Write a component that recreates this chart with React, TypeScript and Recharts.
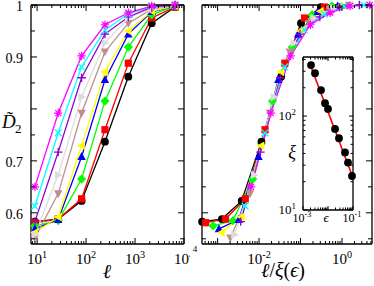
import React from 'react';
import { LineChart, Line, XAxis, YAxis } from 'recharts';

// system sizes l (left panel x)
const sizes = [9, 27, 81, 243, 729, 2187, 6561];

// D2 for each disorder strength, one value per size
const d2Black = [0.583, 0.588, 0.623, 0.737, 0.862, 0.965, 0.996];
const d2Red = [0.581, 0.588, 0.627, 0.76, 0.888, 0.975, 0.996];
const d2Green = [0.575, 0.585, 0.665, 0.815, 0.919, 0.981, 0.998];
const d2Blue = [0.569, 0.587, 0.708, 0.856, 0.944, 0.987, 0.998];
const d2Yellow = [0.562, 0.592, 0.729, 0.871, 0.95, 0.988, 0.998];
const d2Brown = [0.552, 0.637, 0.792, 0.91, 0.965, 0.992, 1.0];
const d2Grey = [0.558, 0.673, 0.823, 0.927, 0.975, 0.994, 1.0];
const d2Violet = [0.583, 0.717, 0.86, 0.944, 0.977, 0.996, 1.0];
const d2Cyan = [0.613, 0.754, 0.881, 0.952, 0.983, 0.998, 1.0];
const d2Magenta = [0.65, 0.792, 0.902, 0.962, 0.985, 0.998, 1.0];

// inset: epsilon vs xi, one point per series, plus the power-law fit
const epsilon = [0.00209, 0.00302, 0.00525, 0.00759, 0.01, 0.0191, 0.0275, 0.0479, 0.0631, 0.0912];
const xi = [349, 286, 189, 137, 119, 73, 58, 41, 32, 23];
const fitEps = [0.0019, 0.094];
const fitXi = [357, 23];
const collapseScale = 61;

// tick labels
const leftXLabelExps = [1, 2, 3, 4];
const leftYLabels = [0.6, 0.7, 0.9, 1];
const rightXLabelExps = [-2, 0];
const insetXLabelExps = [-3, -1];
const insetYLabelExps = [1, 2];

const d2Series = [d2Black, d2Red, d2Green, d2Blue, d2Yellow, d2Brown, d2Grey, d2Violet, d2Cyan, d2Magenta];
const seriesColors = ['#000000', '#ff0000', '#00ff00', '#0000ff', '#ffff00', '#bc8f8f', '#dcdcdc', '#9400d3', '#00ffff', '#ff00ff'];
const seriesShapes = ['circle', 'square', 'diamond', 'up', 'left', 'down', 'right', 'plus', 'cross', 'star'];

const serif = '"Liberation Serif", "DejaVu Serif", serif';

const leftData = d2Series.map((vals) => sizes.map((l, i) => ({ x: l, y: vals[i] })));
const rightData = d2Series.map((vals, s) =>
  sizes.map((l, i) => ({ x: l / (xi[s] * collapseScale), y: vals[i] }))
);
const insetData = epsilon.map((e, i) => ({ x: e, y: xi[i] }));
const fitData = fitEps.map((e, i) => ({ x: e, y: fitXi[i] }));

const leftXDomain = [7.5, 10000];
const rightXDomain = [4.2e-4, 5.3];
const d2Domain = [0.54, 1];
const insetXDomain = [0.001, 0.1];
const insetYDomain = [10, 425];

function logTicks(lo: number, hi: number) {
  const out: number[] = [];
  for (let k = Math.floor(Math.log10(lo)); k <= Math.ceil(Math.log10(hi)); k++) {
    for (let m = 1; m <= 9; m++) {
      const v = +(m * Math.pow(10, k)).toPrecision(6);
      if (v >= lo && v <= hi) out.push(v);
    }
  }
  return out;
}
const d2Ticks = [0.55, 0.6, 0.65, 0.7, 0.75, 0.8, 0.85, 0.9, 0.95, 1];

const isDecade = (v: number) => {
  const e = Math.log10(v);
  return Math.abs(e - Math.round(e)) < 1e-6;
};
const isTenth = (v: number) => Math.abs(v * 10 - Math.round(v * 10)) < 1e-6;

function Pow({ x, y, exp, size, anchor = 'middle' }: any) {
  return (
    <text x={x} y={y} textAnchor={anchor} fontFamily={serif} fontSize={size} fill="#000">
      10
      <tspan dy={-size * 0.42} fontSize={size * 0.68}>
        {exp}
      </tspan>
    </text>
  );
}

// ticks point inward, labels (if any) outside
function bottomLogTick(labelExps: number[], size: number, gap: number, major: number, minor: number, dx = 0) {
  return (p: any) => {
    const v = p.payload.value;
    const dec = isDecade(v);
    const exp = Math.round(Math.log10(v));
    return (
      <g key={`b-${p.index}`}>
        <line x1={p.x} x2={p.x} y1={p.y} y2={p.y - (dec ? major : minor)} stroke="#000" />
        {dec && labelExps.includes(exp) && <Pow x={p.x + dx} y={p.y + gap} exp={exp} size={size} />}
      </g>
    );
  };
}
function topLogTick(major: number, minor: number) {
  return (p: any) => (
    <line key={`t-${p.index}`} x1={p.x} x2={p.x} y1={p.y} y2={p.y + (isDecade(p.payload.value) ? major : minor)} stroke="#000" />
  );
}
function leftLogTick(labelExps: number[], size: number, major: number, minor: number) {
  return (p: any) => {
    const v = p.payload.value;
    const dec = isDecade(v);
    const exp = Math.round(Math.log10(v));
    return (
      <g key={`l-${p.index}`}>
        <line x1={p.x} x2={p.x + (dec ? major : minor)} y1={p.y} y2={p.y} stroke="#000" />
        {dec && labelExps.includes(exp) && <Pow x={p.x - 7} y={p.y + 4} exp={exp} size={size} anchor="end" />}
      </g>
    );
  };
}
function rightLogTick(major: number, minor: number) {
  return (p: any) => (
    <line key={`r-${p.index}`} x1={p.x} x2={p.x - (isDecade(p.payload.value) ? major : minor)} y1={p.y} y2={p.y} stroke="#000" />
  );
}
function leftLinTick(labels: number[]) {
  return (p: any) => {
    const v = p.payload.value;
    const lab = labels.find((l) => Math.abs(l - v) < 1e-6);
    return (
      <g key={`ll-${p.index}`}>
        <line x1={p.x} x2={p.x + (isTenth(v) ? 6 : 4)} y1={p.y} y2={p.y} stroke="#000" />
        {lab !== undefined && (
          <text x={p.x - 8} y={p.y + 6} textAnchor="end" fontFamily={serif} fontSize={14} fill="#000">
            {String(lab)}
          </text>
        )}
      </g>
    );
  };
}
function rightLinTick() {
  return (p: any) => (
    <line key={`rl-${p.index}`} x1={p.x} x2={p.x - (isTenth(p.payload.value) ? 6 : 4)} y1={p.y} y2={p.y} stroke="#000" />
  );
}

function Marker({ cx, cy, shape, color }: any) {
  if (cx == null || cy == null) return null;
  const a = 4.6;
  const b = 3.3;
  const w = 4.2;
  switch (shape) {
    case 'circle':
      return <circle cx={cx} cy={cy} r={3.9} fill={color} />;
    case 'square':
      return <rect x={cx - 3.6} y={cy - 3.6} width={7.2} height={7.2} fill={color} />;
    case 'diamond':
      return <polygon points={`${cx},${cy - a} ${cx + a},${cy} ${cx},${cy + a} ${cx - a},${cy}`} fill={color} />;
    case 'up':
      return <polygon points={`${cx},${cy - a} ${cx + w},${cy + b} ${cx - w},${cy + b}`} fill={color} />;
    case 'down':
      return <polygon points={`${cx},${cy + a} ${cx + w},${cy - b} ${cx - w},${cy - b}`} fill={color} />;
    case 'left':
      return <polygon points={`${cx - a},${cy} ${cx + b},${cy - w} ${cx + b},${cy + w}`} fill={color} />;
    case 'right':
      return <polygon points={`${cx + a},${cy} ${cx - b},${cy - w} ${cx - b},${cy + w}`} fill={color} />;
    case 'plus':
      return <path d={`M${cx - 4.2},${cy}H${cx + 4.2}M${cx},${cy - 4.2}V${cy + 4.2}`} stroke={color} strokeWidth={1.3} />;
    case 'cross':
      return <path d={`M${cx - 3.4},${cy - 3.4}L${cx + 3.4},${cy + 3.4}M${cx + 3.4},${cy - 3.4}L${cx - 3.4},${cy + 3.4}`} stroke={color} strokeWidth={1.3} />;
    default:
      return (
        <path
          d={`M${cx - 4.2},${cy}H${cx + 4.2}M${cx},${cy - 4.2}V${cy + 4.2}M${cx - 3},${cy - 3}L${cx + 3},${cy + 3}M${cx + 3},${cy - 3}L${cx - 3},${cy + 3}`}
          stroke={color}
          strokeWidth={1.2}
        />
      );
  }
}

const frame = { stroke: '#000', strokeWidth: 1.3 };

function SeriesLines({ data, tag }: { data: { x: number; y: number }[][]; tag: string }) {
  return (
    <>
      {data.map((rows, s) => (
        <Line
          key={`${tag}-${s}`}
          xAxisId="b"
          yAxisId="l"
          data={rows}
          dataKey="y"
          type="linear"
          stroke={seriesColors[s]}
          strokeWidth={1.3}
          isAnimationActive={false}
          activeDot={false}
          dot={(p: any) => (
            <Marker key={`${tag}-${s}-${p.index}`} cx={p.cx} cy={p.cy} shape={seriesShapes[s]} color={seriesColors[s]} />
          )}
        />
      ))}
    </>
  );
}

// axes are 1px thick so Recharts draws them; margins are reduced by that pixel
function axesFor(xDomain: number[], xTicks: number[], xLabelExps: number[], yLabels: number[]) {
  return [
    <XAxis key="xb" xAxisId="b" type="number" dataKey="x" scale="log" domain={xDomain} ticks={xTicks} interval={0}
      height={1} tickSize={0} tickMargin={0} tickLine={false} axisLine={frame}
      tick={bottomLogTick(xLabelExps, 15, 20, 6, 3)} />,
    <XAxis key="xt" xAxisId="t" orientation="top" type="number" dataKey="x" scale="log" domain={xDomain} ticks={xTicks}
      interval={0} height={1} tickSize={0} tickMargin={0} tickLine={false} axisLine={frame} allowDataOverflow
      tick={topLogTick(6, 3)} />,
    <YAxis key="yl" yAxisId="l" type="number" domain={d2Domain} ticks={d2Ticks} interval={0} width={1} tickSize={0}
      tickMargin={0} tickLine={false} axisLine={frame} tick={leftLinTick(yLabels)} />,
    <YAxis key="yr" yAxisId="r" orientation="right" type="number" domain={d2Domain} ticks={d2Ticks} interval={0}
      width={1} tickSize={0} tickMargin={0} tickLine={false} axisLine={frame} allowDataOverflow tick={rightLinTick()} />,
  ];
}

export default function App() {
  return (
    <div style={{ position: 'absolute', left: 0, top: 0, width: 374, height: 286, background: '#fff', overflow: 'hidden' }}>
      <div style={{ position: 'absolute', left: 0, top: 0 }}>
        <LineChart width={190} height={286} margin={{ top: 4, right: 5, bottom: 41, left: 30 }}>
          {axesFor(leftXDomain, logTicks(leftXDomain[0], leftXDomain[1]), leftXLabelExps, leftYLabels)}
          {SeriesLines({ data: leftData, tag: 'L' })}
        </LineChart>
      </div>
      <div style={{ position: 'absolute', left: 190, top: 0 }}>
        <LineChart width={184} height={286} margin={{ top: 4, right: 1, bottom: 41, left: 11 }}>
          {axesFor(rightXDomain, logTicks(rightXDomain[0], rightXDomain[1]), rightXLabelExps, [])}
          {SeriesLines({ data: rightData, tag: 'R' })}
        </LineChart>
      </div>
      <div style={{ position: 'absolute', left: 270, top: 50 }}>
        <LineChart width={104} height={185} margin={{ top: 6, right: 20, bottom: 24, left: 32 }}>
          <XAxis xAxisId="b" type="number" dataKey="x" scale="log" domain={insetXDomain}
            ticks={logTicks(insetXDomain[0], insetXDomain[1])} interval={0} height={1} tickSize={0} tickMargin={0}
            tickLine={false} axisLine={frame} tick={bottomLogTick(insetXLabelExps, 12, 12, 4, 2.5, -1)} />
          <XAxis xAxisId="t" orientation="top" type="number" dataKey="x" scale="log" domain={insetXDomain}
            ticks={logTicks(insetXDomain[0], insetXDomain[1])} interval={0} height={1} tickSize={0} tickMargin={0}
            tickLine={false} axisLine={frame} allowDataOverflow tick={topLogTick(4, 2.5)} />
          <YAxis yAxisId="l" type="number" scale="log" domain={insetYDomain}
            ticks={logTicks(insetYDomain[0], insetYDomain[1])} interval={0} width={1} tickSize={0} tickMargin={0}
            tickLine={false} axisLine={frame} tick={leftLogTick(insetYLabelExps, 13, 4, 2.5)} />
          <YAxis yAxisId="r" orientation="right" type="number" scale="log" domain={insetYDomain}
            ticks={logTicks(insetYDomain[0], insetYDomain[1])} interval={0} width={1} tickSize={0} tickMargin={0}
            tickLine={false} axisLine={frame} allowDataOverflow tick={rightLogTick(4, 2.5)} />
          <Line xAxisId="b" yAxisId="l" data={insetData} dataKey="y" stroke="none" isAnimationActive={false}
            activeDot={false}
            dot={(p: any) => <circle key={`in-${p.index}`} cx={p.cx} cy={p.cy} r={3.9} fill="#000" />} />
          <Line xAxisId="b" yAxisId="l" data={fitData} dataKey="y" stroke="#ff0000" strokeWidth={1.6}
            isAnimationActive={false} dot={false} activeDot={false} />
        </LineChart>
      </div>
      <svg width={374} height={286} style={{ position: 'absolute', left: 0, top: 0, pointerEvents: 'none' }} fontFamily={serif}>
        <text x={107} y={278} fontSize={20} fontStyle="italic" textAnchor="middle">ℓ</text>
        <text x={283} y={277} fontSize={20} textAnchor="middle">
          <tspan fontStyle="italic">ℓ</tspan>/<tspan fontStyle="italic">ξ</tspan>(<tspan fontStyle="italic">ϵ</tspan>)
        </text>
        <text x={2} y={128} fontSize={19} fontStyle="italic">D̃</text>
        <text x={15} y={133} fontSize={13}>2</text>
        <text x={292} y={158} fontSize={18} fontStyle="italic" textAnchor="middle">ξ</text>
        <text x={326} y={222} fontSize={13} fontStyle="italic" textAnchor="middle">ϵ</text>
        <text x={195} y={252} fontSize={9} textAnchor="middle">4</text>
      </svg>
    </div>
  );
}
